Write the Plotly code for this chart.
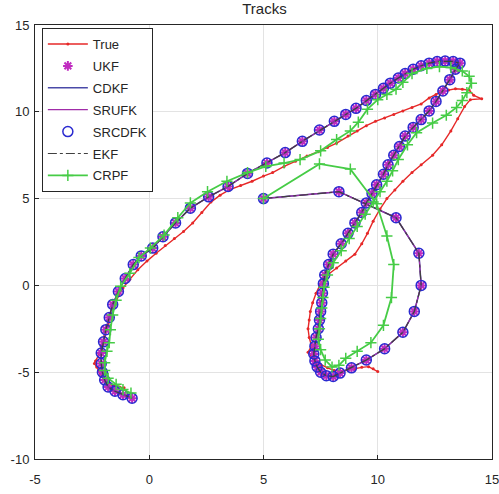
import plotly.graph_objects as go

# True track
true_x = [10.0, 9.8, 9.6, 9.3, 9.0, 8.7, 8.4, 8.1, 7.8, 7.5, 7.2, 6.95, 7.1, 7.0, 6.95, 7.0, 7.05, 7.15,
          7.3, 7.5, 7.8, 8.2, 8.6, 9.0, 9.3, 9.55, 9.8, 10.1, 10.4, 10.75, 11.1, 11.5, 11.9, 12.4,
          12.8, 13.2, 13.5, 13.8, 14.05, 14.55, 14.2, 14.0, 13.7, 13.4, 13.1, 12.85, 12.55, 12.25,
          11.9, 11.5, 11.1, 10.7, 10.3, 9.9, 9.5, 9.1, 8.7, 8.2, 7.8, 7.4, 6.9, 6.4, 5.9, 5.4, 5.0,
          4.5, 4.0, 3.5, 3.1, 2.7, 2.3, 1.9, 1.5, 1.1, 0.7, 0.3, -0.1, -0.5, -0.85, -1.15, -1.35,
          -1.5, -1.65, -1.8, -1.95, -2.1, -2.2, -2.35, -2.4, -2.3, -2.15, -1.9, -1.6, -1.3, -1.1]
true_y = [-4.96, -4.8, -4.68, -4.72, -4.8, -4.9, -4.95, -4.9, -4.75, -4.55, -4.3, -3.85, -3.5, -3.0,
          -2.5, -2.0, -1.5, -1.0, -0.45, 0.1, 0.6, 1.0, 1.4, 1.8, 2.4, 3.0, 3.7, 4.4, 5.0, 5.5, 6.0,
          6.5, 6.95, 7.5, 8.1, 8.9, 9.6, 10.3, 10.7, 10.75, 10.95, 11.25, 11.3, 11.33, 11.25, 11.2,
          11.0, 10.8, 10.45, 10.25, 10.05, 9.85, 9.65, 9.45, 9.2, 8.9, 8.6, 8.2, 7.95, 7.7, 7.45,
          7.15, 6.85, 6.5, 6.3, 6.0, 5.75, 5.5, 5.2, 4.8, 4.2, 3.6, 3.1, 2.7, 2.3, 1.85, 1.4, 0.9,
          0.35, -0.15, -0.6, -1.1, -1.7, -2.3, -2.9, -3.5, -4.0, -4.35, -4.5, -4.7, -5.1, -5.5,
          -5.75, -5.85, -5.9]

# Kalman-type estimates (UKF, CDKF, SRUFK, SRCDFK, EKF coincide)
est_x = [5.0, 8.3, 10.8, 11.8, 11.9, 11.6, 11.1, 10.3, 9.5, 8.85, 8.35, 8.05, 7.75, 7.5, 7.35, 7.25,
         7.2, 7.25, 7.3, 7.4, 7.45, 7.5, 7.55, 7.58, 7.62, 7.68, 7.85, 8.05, 8.4, 8.7, 9.0, 9.3,
         9.5, 9.75, 9.95, 10.25, 10.45, 10.7, 10.95, 11.2, 11.55, 11.9, 12.25, 12.55, 12.85, 13.15,
         13.4, 13.6, 13.3, 12.95, 12.6, 12.25, 11.9, 11.55, 11.2, 10.9, 10.55, 10.25, 9.9, 9.5,
         9.05, 8.6, 8.1, 7.45, 6.7, 5.95, 5.15, 4.3, 3.45, 2.6, 1.8, 1.15, 0.6, 0.15, -0.35, -0.7,
         -1.05, -1.35, -1.6, -1.75, -1.9, -2.0, -2.1, -2.1, -2.05, -1.95, -1.8, -1.5, -1.15, -0.75]
est_y = [5.0, 5.4, 3.9, 1.85, 0.0, -1.5, -2.7, -3.65, -4.3, -4.75, -5.05, -5.25, -5.2, -5.0, -4.7,
         -4.35, -3.95, -3.5, -3.0, -2.5, -2.0, -1.5, -1.0, -0.45, 0.1, 0.6, 1.2, 1.8, 2.4, 3.0, 3.6,
         4.2, 4.75, 5.3, 5.8, 6.4, 6.95, 7.5, 8.0, 8.6, 9.1, 9.55, 10.05, 10.6, 11.2, 11.85, 12.45,
         12.8, 12.9, 12.92, 12.9, 12.8, 12.65, 12.45, 12.2, 11.95, 11.65, 11.35, 11.0, 10.65, 10.2,
         9.85, 9.45, 8.95, 8.3, 7.65, 7.05, 6.45, 5.7, 5.1, 4.45, 3.6, 2.8, 2.15, 1.7, 1.2, 0.4,
         -0.35, -1.1, -1.85, -2.55, -3.25, -3.9, -4.5, -5.0, -5.45, -5.85, -6.1, -6.3, -6.5]

# CRPF estimate
crpf_x = [5.0, 7.45, 8.8, 9.95, 10.4, 10.7, 10.6, 10.25, 9.7, 9.1, 8.6, 8.3, 8.0, 7.7, 7.5, 7.4,
          7.45, 7.5, 7.55, 7.6, 7.65, 7.8, 8.05, 8.4, 8.75, 9.1, 9.45, 9.8, 10.1, 10.4, 10.65, 10.9,
          11.3, 11.7, 12.4, 13.0, 13.45, 13.7, 13.9, 14.1, 14.0, 13.7, 13.2, 12.7, 12.15, 11.5, 11.1,
          10.8, 10.4, 10.0, 9.55, 9.15, 8.8, 8.2, 7.5, 6.6, 5.9, 5.1, 4.3, 3.4, 2.55, 1.8, 1.25,
          0.65, 0.05, -0.45, -0.85, -1.25, -1.45, -1.6, -1.7, -1.75, -1.85, -1.95, -1.95, -1.8,
          -1.45, -1.15, -0.8]
crpf_y = [5.0, 7.0, 6.7, 4.7, 2.85, 1.2, -0.7, -2.3, -3.3, -3.8, -4.2, -4.6, -4.7, -4.3, -3.7,
          -3.1, -2.5, -1.9, -1.3, -0.7, -0.1, 0.6, 1.3, 2.0, 2.7, 3.4, 4.1, 4.8, 5.4, 6.0, 6.6, 7.25,
          8.1, 8.8, 9.35, 9.8, 10.25, 10.65, 11.1, 11.65, 12.05, 12.35, 12.55, 12.6, 12.5, 12.2,
          11.7, 11.3, 11.0, 10.7, 10.15, 9.4, 8.9, 8.4, 7.75, 7.25, 7.05, 6.85, 6.5, 6.0, 5.4, 4.75,
          3.9, 2.9, 2.15, 1.6, 0.7, -0.05, -0.85, -1.7, -2.55, -3.3, -3.8, -4.45, -4.9, -5.35, -5.7,
          -6.0, -6.2]

x_ticks = [-5, 0, 5, 10, 15]
x_tick_labels = ["-5", "0", "5", "10", "15"]
y_ticks = [-10, -5, 0, 5, 10, 15]
y_tick_labels = ["-10", "-5", "0", "5", "10", "15"]

fig = go.Figure()
fig.add_trace(go.Scatter(x=true_x, y=true_y, name="True", mode="lines+markers",
                         line=dict(color="#e62828", width=1.4),
                         marker=dict(symbol="circle", size=3, color="#e62828"),
                         legendgroup="a"))
fig.add_trace(go.Scatter(x=est_x, y=est_y, name="UKF", mode="markers",
                         marker=dict(symbol="asterisk-open", size=8, color="#c02cc0",
                                     line=dict(color="#c02cc0", width=2)),
                         legendgroup="b"))
fig.add_trace(go.Scatter(x=est_x, y=est_y, name="CDKF", mode="lines",
                         line=dict(color="#4a4aa8", width=1.5), legendgroup="c"))
fig.add_trace(go.Scatter(x=est_x, y=est_y, name="SRUFK", mode="lines",
                         line=dict(color="#a02ca8", width=1.2), legendgroup="d"))
fig.add_trace(go.Scatter(x=est_x, y=est_y, name="SRCDFK", mode="markers",
                         marker=dict(symbol="circle-open", size=10, color="#2a2ad0",
                                     line=dict(color="#2a2ad0", width=1.5)),
                         legendgroup="e"))
fig.add_trace(go.Scatter(x=est_x, y=est_y, name="EKF", mode="lines",
                         line=dict(color="#404040", width=1.2, dash="dashdot"),
                         legendgroup="f"))
fig.add_trace(go.Scatter(x=crpf_x, y=crpf_y, name="CRPF", mode="lines+markers",
                         line=dict(color="#46cc46", width=1.8),
                         marker=dict(symbol="cross-thin-open", size=8, color="#46cc46",
                                     line=dict(color="#46cc46", width=1.5)),
                         legendgroup="g"))

axis_common = dict(showline=True, mirror=True, linecolor="#262626", linewidth=1,
                   ticks="inside", ticklen=4, tickcolor="#262626",
                   showgrid=True, gridcolor="#e3e3e3", gridwidth=1, zeroline=False,
                   ticklabeloverflow="allow", automargin=False,
                   tickfont=dict(family="Liberation Sans, Arial", size=13, color="#262626"))

fig.update_layout(
    width=499, height=494,
    margin=dict(l=35, r=7, t=25, b=35),
    plot_bgcolor="white", paper_bgcolor="white",
    title=dict(text="Tracks", x=0.53, xanchor="center", y=0.983, yanchor="middle",
               yref="container",
               font=dict(family="Liberation Sans, Arial", size=15, color="#262626")),
    xaxis=dict(range=[-5, 15], tickvals=x_ticks, ticktext=x_tick_labels,
               ticklabelstandoff=8, **axis_common),
    yaxis=dict(range=[-10, 15], tickvals=y_ticks, ticktext=y_tick_labels,
               ticklabelstandoff=2, **axis_common),
    legend=dict(x=0.015, y=0.993, xanchor="left", yanchor="top",
                bordercolor="#262626", borderwidth=1, bgcolor="white",
                tracegroupgap=2, itemwidth=40,
                font=dict(family="Liberation Sans, Arial", size=13, color="#262626")),
    showlegend=True,
)

fig.write_html("out.html")
